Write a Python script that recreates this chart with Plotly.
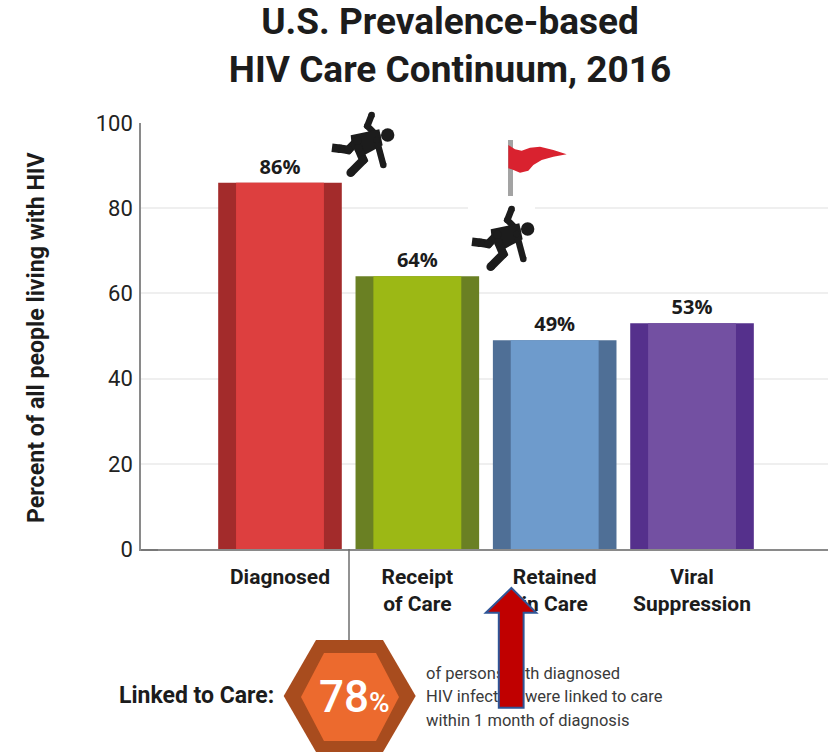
import plotly.graph_objects as go

W, H = 828, 753
L, R, T, B = 141, 828, 123, 549

categories = ["Diagnosed", "Receipt<br>of Care", "Retained<br>in Care", "Viral<br>Suppression"]
values = [86, 64, 49, 53]
dark_colors = ["#a32b2b", "#6a8023", "#4f6f96", "#55308c"]
light_colors = ["#dd3f3f", "#9cb815", "#6e9bcc", "#7350a2"]
y_ticks = [0, 20, 40, 60, 80, 100]
note_lines = ["of persons with diagnosed", "HIV infection were linked to care", "within 1 month of diagnosis"]
note_x = [426, 426, 426]
note_y = [675, 698, 722]
INK = "#1c1c1c"
FONT = "Roboto, Arial, sans-serif"


def px(x):
    return x / W


def py(y):
    return 1 - y / H


def path(points, close=True):
    s = "M " + " L ".join(f"{px(x):.5f},{py(y):.5f}" for x, y in points)
    return s + (" Z" if close else "")


def poly(points, fill, line=None, width=0):
    return dict(type="path", xref="paper", yref="paper", layer="above", path=path(points),
                fillcolor=fill, line=dict(color=line or fill, width=width))


def stroke(points, color, width):
    return dict(type="path", xref="paper", yref="paper", layer="above", path=path(points, close=False),
                line=dict(color=color, width=width), fillcolor="rgba(0,0,0,0)")


def circle(cx, cy, r, fill):
    return dict(type="circle", xref="paper", yref="paper", layer="above",
                x0=px(cx - r), x1=px(cx + r), y0=py(cy + r), y1=py(cy - r),
                fillcolor=fill, line=dict(width=0))


def rect(x0, y0, x1, y1, fill):
    return poly([(x0, y0), (x1, y0), (x1, y1), (x0, y1)], fill)


def limb(points, width):
    out = [stroke(points, INK, width)]
    for p in points:
        out.append(circle(p[0], p[1], width / 2, INK))
    return out


def zoomed(pts, dx=0, dy=0):
    return [(320 + a / 3 + dx, 100 + b / 3 + dy) for a, b in pts]


def person(dx, dy):
    out = []
    out += limb(zoomed([(155, 45), (142, 78), (172, 108)], dx, dy), 6.5)
    out.append(poly(zoomed([(92, 106), (178, 88), (188, 136), (135, 164), (96, 142)], dx, dy), INK))
    out += limb(zoomed([(60, 146), (85, 150), (112, 122)], dx, dy), 8.5)
    out.append(stroke(zoomed([(36, 143), (60, 146)], dx, dy), INK, 8.5))
    out += limb(zoomed([(92, 218), (130, 180), (115, 145)], dx, dy), 8.5)
    out += limb(zoomed([(170, 120), (190, 195)], dx, dy), 6.5)
    a, b = zoomed([(203, 105)], dx, dy)[0]
    out.append(circle(a, b, 6.7, INK))
    return out


fig = go.Figure()
fig.add_trace(go.Bar(x=categories, y=values, width=0.9, marker=dict(color=dark_colors, line=dict(width=0)),
                     hoverinfo="skip", showlegend=False))
fig.add_trace(go.Bar(x=categories, y=values, width=0.64, marker=dict(color=light_colors, line=dict(width=0)),
                     text=[f"{v}%" for v in values], textposition="outside", cliponaxis=False,
                     textfont=dict(family="Open Sans, Arial, sans-serif", size=20, color=INK, weight=700),
                     showlegend=False))
fig.add_trace(go.Scatter(x=note_x, y=note_y, text=note_lines, mode="text", textposition="middle right",
                         textfont=dict(family=FONT, size=16.5, color="#3a3a3a"), xaxis="x2", yaxis="y2",
                         cliponaxis=False, showlegend=False, hoverinfo="skip"))

shapes = []
shapes.append(stroke([(141, 550), (158, 550)], "#777777", 2))
shapes.append(stroke([(349, 549), (349, 640)], "#6e6e6e", 1.5))
shapes.append(poly([(283.7, 696), (316, 640), (383, 640), (415.7, 696), (383, 752), (316, 752)], "#a84c1e"))
shapes.append(poly([(301, 697), (324, 653), (376, 653), (399, 697), (376, 741), (324, 741)], "#ec6a2e"))
shapes.append(rect(332, 112, 394.5, 178, "white"))
shapes.append(rect(468, 204, 535, 274, "white"))
shapes += person(0, 0)
shapes += person(140, 94)
shapes.append(rect(508, 140, 513, 196, "#a3a3a3"))
shapes.append(poly(zoomed([(565, 135), (585, 148), (605, 152), (630, 143), (660, 140), (700, 150), (740, 163),
                           (700, 170), (665, 180), (640, 195), (625, 212), (600, 218), (575, 208), (565, 205)]),
                   "#d9222f"))
shapes.append(poly([(511.4, 588), (536.3, 612.7), (523.6, 612.7), (523.6, 707.7), (498.8, 707.7),
                    (498.8, 612.7), (485.8, 612.7)], "#c00000", "#2f5597", 2))

fig.update_layout(
    width=W, height=H, autosize=False,
    margin=dict(l=0, r=0, t=0, b=0, pad=0, autoexpand=False),
    paper_bgcolor="white", plot_bgcolor="rgba(0,0,0,0)",
    barmode="overlay",
    font=dict(family=FONT, color=INK),
    title=dict(text="<b>U.S. Prevalence-based<br>HIV Care Continuum, 2016</b>",
               x=px(450), xanchor="center", y=py(33.5), yanchor="middle",
               font=dict(family=FONT, size=37, color=INK)),
    xaxis=dict(domain=[px(L), px(R)], type="category", range=[-1.012, 3.99], showgrid=False, automargin=False,
               showline=True, linecolor="#8a8a8a", linewidth=1.5, ticks="", ticklabelstandoff=8, anchor="y",
               tickfont=dict(family=FONT, size=21, color=INK, weight=700)),
    yaxis=dict(domain=[py(B), py(T)], range=[0, 100], tickvals=y_ticks, automargin=False, anchor="x",
               showgrid=True, gridcolor="#efefef", gridwidth=1.5, zeroline=False,
               showline=True, linecolor="#8a8a8a", linewidth=1.5, ticks="", ticklabelstandoff=2,
               tickfont=dict(family=FONT, size=22, color="#222222")),
    xaxis2=dict(domain=[px(420), px(700)], range=[420, 700], visible=False, anchor="y2", fixedrange=True),
    yaxis2=dict(domain=[py(735), py(660)], range=[735, 660], visible=False, anchor="x2", fixedrange=True),
    shapes=shapes,
    annotations=[
        dict(text="<b>Percent of all people living with HIV</b>", xref="paper", yref="paper",
             x=px(36), y=py(337), textangle=-90, xanchor="center", yanchor="middle", showarrow=False,
             font=dict(family=FONT, size=23.2, color=INK)),
        dict(text="<b>Linked to Care:</b>", xref="paper", yref="paper", x=px(276), y=py(695),
             xanchor="right", yanchor="middle", showarrow=False, font=dict(family=FONT, size=23, color=INK)),
        dict(text='78<span style="font-size:28px">%</span>',
             xref="paper", yref="paper", x=px(354.5), y=py(697), xanchor="center", yanchor="middle",
             showarrow=False, font=dict(family=FONT, size=44, color="white", weight=500)),
    ],
)
fig.write_html("out.html", config={"displayModeBar": False}, post_script="document.body.style.margin='0';")
